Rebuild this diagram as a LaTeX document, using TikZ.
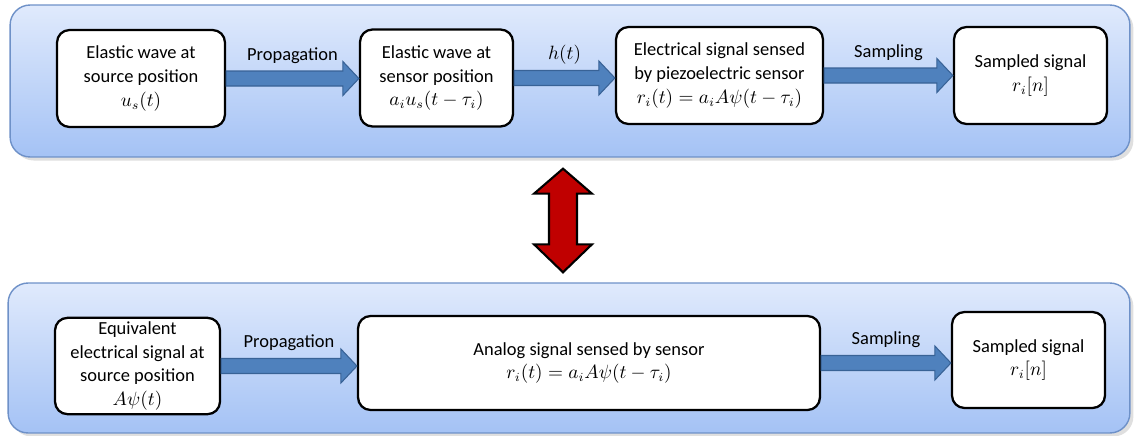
\documentclass[tikz,border=0pt]{standalone}
\usepackage{fontspec}
\setmainfont{Carlito}
\usetikzlibrary{calc,shadows}

\definecolor{panelline}{RGB}{110,145,200}
\definecolor{paneltop}{RGB}{224,234,252}
\definecolor{panelbot}{RGB}{164,194,245}
\definecolor{flowfill}{RGB}{79,129,189}
\definecolor{flowline}{RGB}{56,98,150}
\definecolor{swapred}{RGB}{192,0,0}

\tikzstyle{panel} = [rectangle, rounded corners=0.4cm, draw=panelline, line width=0.8pt, top color=paneltop, bottom color=panelbot, drop shadow={shadow xshift=2pt, shadow yshift=-2pt, opacity=0.25}]
\tikzstyle{box} = [rectangle, rounded corners=0.25cm, draw=black, line width=1.3pt, fill=white, align=center, inner sep=2pt, minimum height=1.94cm]
\tikzstyle{flow} = [fill=flowfill, draw=flowline, line width=0.6pt]
\tikzstyle{flowlabel} = [inner sep=1pt]
\tikzstyle{swap} = [fill=swapred, draw=black, line width=1.2pt, line join=miter]

% block arrow from one box to the next, with its label above
\newcommand{\flowarrow}[3]{%
  \path[flow] ($(#1.east)+(0,7.5)$) -- ($(#2.west|-#1.east)+(-16,7.5)$) -- ($(#2.west|-#1.east)+(-16,17)$) -- (#2.west|-#1.east) -- ($(#2.west|-#1.east)+(-16,-17)$) -- ($(#2.west|-#1.east)+(-16,-7.5)$) -- ($(#1.east)+(0,-7.5)$) -- cycle;
  \node[flowlabel] at ($(#1.east)!0.5!(#2.west|-#1.east)+(0,-23)$) {#3};}

\begin{document}
\begin{tikzpicture}[x=0.02cm, y=-0.02cm, font=\fontsize{10.5}{13.6}\selectfont]
    \useasboundingbox (0,0) rectangle (1136,436);

    % panels
    \node (upper) [panel, minimum width=22.4cm, minimum height=3.04cm] at (570,81) {};
    \node (lower) [panel, minimum width=22.44cm, minimum height=3cm] at (569,358) {};

    % upper chain
    \node (src) [box, minimum width=3.36cm] at (141,78.5) {Elastic wave at\\source position\\$u_s(t)$};
    \node (sen) [box, minimum width=3.06cm] at (436.5,78) {Elastic wave at\\sensor position\\$a_i u_s(t-\tau_i)$};
    \node (pzt) [box, minimum width=4.14cm] at (719.5,75.5) {Electrical signal sensed\\by piezoelectric sensor\\$r_i(t)=a_i A\psi(t-\tau_i)$};
    \node (smp) [box, minimum width=3.06cm] at (1030.5,75.5) {Sampled signal\\$r_i[n]$};

    % lower chain
    \node (equ) [box, minimum width=3.3cm, minimum height=1.92cm] at (137.5,366) {Equivalent\\electrical signal at\\source position\\$A\psi(t)$};
    \node (ana) [box, minimum width=9.24cm, minimum height=1.88cm] at (589,363) {Analog signal sensed by sensor\\$r_i(t)=a_i A\psi(t-\tau_i)$};
    \node (bsm) [box, minimum width=3.06cm, minimum height=1.92cm] at (1028.5,360) {Sampled signal\\$r_i[n]$};

    \flowarrow{src}{sen}{Propagation}
    \flowarrow{sen}{pzt}{$h(t)$}
    \flowarrow{pzt}{smp}{Sampling}
    \flowarrow{equ}{ana}{Propagation}
    \flowarrow{ana}{bsm}{Sampling}

    % equivalence between the two chains
    \coordinate (up) at ($(upper.south)+(-7,11)$);
    \coordinate (dn) at ($(lower.north)+(-6,-10)$);
    \path[swap] (up) -- ++(29,25) -- ++(-15,0) |- ($(dn)+(14,-28)$) -- ++(15,0) -- (dn) -- ++(-29,-28) -- ++(15,0) |- ($(up)+(-14,25)$) -- ++(-15,0) -- cycle;
\end{tikzpicture}
\end{document}
